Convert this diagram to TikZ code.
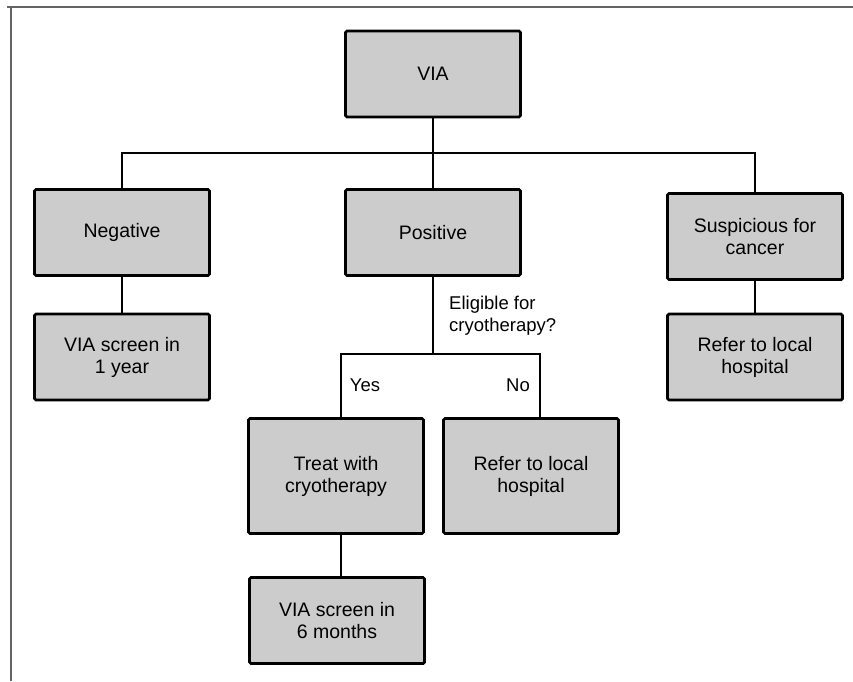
\documentclass[tikz,border=0pt]{standalone}
\usepackage{fontspec}
\setmainfont{Liberation Sans}
\definecolor{boxgray}{RGB}{204,204,204}
\definecolor{framegray}{RGB}{100,100,100}
\begin{document}
\begin{tikzpicture}[x=1pt,y=-1pt,
  box/.style={draw=black, line width=2.8pt, fill=boxgray, rounded corners=1.5pt,
    minimum width=175pt, minimum height=86pt, align=center, inner sep=0pt,
    font=\fontsize{19.5}{22}\selectfont},
  tallbox/.style={box, minimum height=115pt},
  link/.style={line width=2.4pt, draw=black},
  lbl/.style={font=\fontsize{18.5}{22}\selectfont, inner sep=0pt},
  frametop/.style={draw=framegray, line width=2pt},
  frameleft/.style={draw=framegray, line width=1.2pt}]
\useasboundingbox (0,0) rectangle (853,681);
% frame
\coordinate (fbl) at (11,681);
\coordinate (ftl) at (11,7);
\coordinate (ftl2) at (7,7);
\coordinate (ftr) at (853,7);
\draw[frameleft] (fbl) -- (ftl);
\draw[frametop] (ftl2) -- (ftr);
% nodes
\node[box] (via) at (433,74) {VIA};
\node[box] (neg) at (122,232.5) {Negative};
\node[box] (pos) at (433,232.5) {Positive};
\node[box] (susp) at (755,236.5) {Suspicious for\\cancer};
\node[box] (via1) at (122,357) {VIA screen in\\1 year};
\node[box] (refr) at (755,357) {Refer to local\\hospital};
\node[tallbox] (treat) at (336,476) {Treat with\\cryotherapy};
\node[tallbox] (refm) at (531,476) {Refer to local\\hospital};
\node[box] (via6) at (337,620.5) {VIA screen in\\6 months};
% connectors
\coordinate (bar) at (433,153);
\draw[link] (via.south) -- (bar);
\draw[link] (neg.north) |- (bar) -| (susp.north);
\draw[link] (bar) -- (pos.north);
\draw[link] (neg.south) -- (via1.north);
\draw[link] (susp.south) -- (refr.north);
\coordinate (split) at (433,354);
\coordinate (yb) at (341,354);
\coordinate (nb) at (540,354);
\draw[link] (pos.south) -- (split);
\draw[link] (treat.north -| yb) -- (yb) -- (nb) -- (refm.north -| nb);
\draw[link] (treat.south -| yb) -- (via6.north -| yb);
% labels
\node[lbl, anchor=west, align=left] (elig) at (449,316) {Eligible for\\cryotherapy?};
\node[lbl] (yes) at (365,385) {Yes};
\node[lbl] (no) at (518,385) {No};
\end{tikzpicture}
\end{document}
